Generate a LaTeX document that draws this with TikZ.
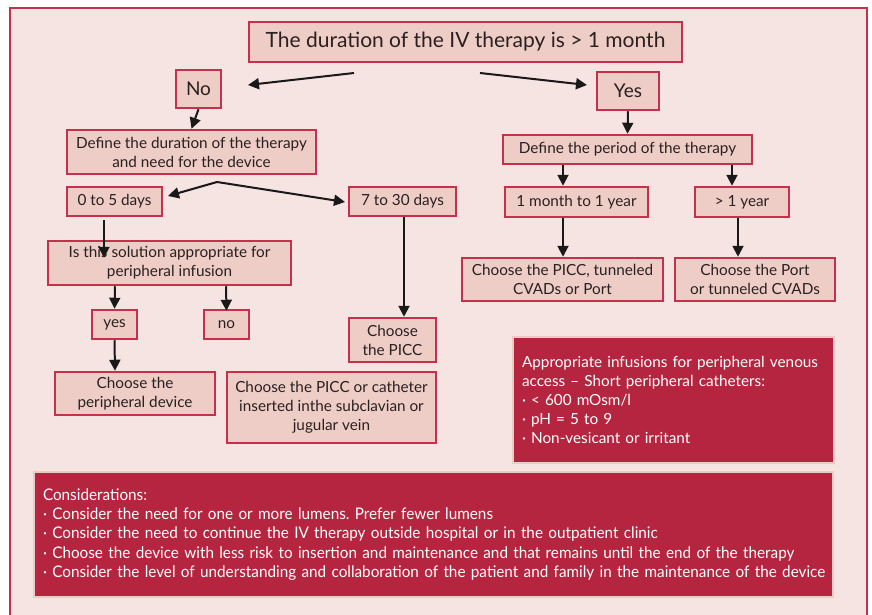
\documentclass[tikz,border=0pt]{standalone}
\usepackage{fontspec}
\setmainfont{Lato}
\newfontfamily\condfont[FakeStretch=0.955]{Lato}
\usetikzlibrary{arrows.meta}
\frenchspacing
\hbadness=10000 \hfuzz=50pt
\definecolor{bgpink}{HTML}{F6E4E2}
\definecolor{boxfill}{HTML}{EECDC6}
\definecolor{boxline}{HTML}{C5304A}
\definecolor{darkred}{HTML}{B5253F}
\definecolor{lightline}{HTML}{EBCBC6}
\definecolor{txt}{HTML}{2A2020}
\tikzset{
  fbox/.style={draw=boxline, line width=2.5pt, fill=boxfill, text=txt, inner sep=0pt, align=center, font=\fontsize{15.3}{19}\selectfont},
  redbox/.style={draw=lightline, line width=2pt, fill=darkred, text=white, inner sep=0pt},
  arr/.style={line width=2pt, draw=black!90, -{Triangle[length=11pt,width=11pt]}}
}
\begin{document}
\begin{tikzpicture}[x=1pt,y=-1pt]
\useasboundingbox (0,0) rectangle (872,615);
\fill[white] (0,0) rectangle (872,615);
\draw[draw=boxline, line width=2pt, fill=bgpink] (10,8) rectangle (867,625);

\node[fbox, minimum width=433pt, minimum height=40pt, font=\fontsize{21}{24}\selectfont] (title) at (465.5,42) {The duration of the IV therapy is > 1 month};
\node[fbox, minimum width=45pt, minimum height=38pt, font=\fontsize{19}{22}\selectfont] (no) at (198.5,89) {No};
\node[fbox, minimum width=62pt, minimum height=38pt, font=\fontsize{19}{22}\selectfont] (yes) at (628,91) {Yes};
\node[fbox, minimum width=249pt, minimum height=44pt] (defdur) at (191.5,152) {Define the duration of the therapy\\and need for the device};
\node[fbox, minimum width=249pt, minimum height=29pt] (defper) at (627.5,149.5) {Define the period of the therapy};
\node[fbox, minimum width=95pt, minimum height=29pt] (d05) at (114.5,201.5) {0 to 5 days};
\node[fbox, minimum width=107pt, minimum height=29pt] (d730) at (402.5,201.5) {7 to 30 days};
\node[fbox, minimum width=143pt, minimum height=30pt] (m1y) at (576.5,202) {1 month to 1 year};
\node[fbox, minimum width=94pt, minimum height=30pt] (g1y) at (742,202) {> 1 year};
\node[fbox, minimum width=243pt, minimum height=44pt] (isthis) at (169.5,263) {Is this solution appropriate for\\peripheral infusion};
\node[fbox, minimum width=45pt, minimum height=29pt] (yes2) at (114.5,324.5) {yes};
\node[fbox, minimum width=45pt, minimum height=29pt] (no2) at (226.5,324.5) {no};
\node[fbox, minimum width=87pt, minimum height=44pt] (picc) at (392.5,340) {Choose\\the PICC};
\node[fbox, minimum width=160pt, minimum height=43pt] (periph) at (135,393.5) {Choose the\\peripheral device};
\node[fbox, minimum width=209pt, minimum height=71pt] (piccor) at (331.5,407.5) {Choose the PICC or catheter\\inserted inthe subclavian or\\jugular vein};
\node[fbox, minimum width=201pt, minimum height=43pt] (picctun) at (562.5,279.5) {Choose the PICC, tunneled\\CVADs or Port};
\node[fbox, minimum width=160pt, minimum height=43pt] (port) at (755,279.5) {Choose the Port\\or tunneled CVADs};

\node[redbox, minimum width=321pt, minimum height=126pt, text width=303pt, align=left, font=\fontsize{15.3}{19}\selectfont] (approp) at (673.5,400) {Appropriate infusions for peripheral venous\\access -- Short peripheral catheters:\\· < 600 mOsm/l\\· pH = 5 to 9\\· Non-vesicant or irritant};
\node[redbox, minimum width=799pt, minimum height=125pt, text width=781pt, align=left, font=\condfont\fontsize{16}{19.2}\selectfont] (consid) at (433.5,534.5) {\mbox{Considerations:}\\\mbox{· Consider the need for one or more lumens. Prefer fewer lumens}\\\mbox{· Consider the need to continue the IV therapy outside hospital or in the outpatient clinic}\\\mbox{· Choose the device with less risk to insertion and maintenance and that remains until the end of the therapy}\\\mbox{· Consider the level of understanding and collaboration of the patient and family in the maintenance of the device}};

% arrows
\coordinate (tL) at (354,73);
\coordinate (tR) at (480,73);
\draw[arr] (tL) -- (248,85);
\draw[arr] (tR) -- (587,85);
\draw[arr] (no.south) -- (defdur.north);
\draw[arr] (yes.south) -- (defper.north);
\coordinate (split) at (217,182);
\draw[arr] (split) -- (168,196);
\draw[arr] (split) -- (345,202);
\draw[arr] ([xshift=-10.5pt,yshift=-3pt]d05.south) -- ([xshift=-65.5pt,yshift=-18pt]isthis.north);
\draw[arr] ([xshift=1.5pt]d730.south) -- ([xshift=11.5pt]picc.north);
\draw[arr] ([xshift=-54.5pt]isthis.south) -- (yes2.north);
\draw[arr] ([xshift=56.5pt]isthis.south) -- ([yshift=-2pt]no2.north);
\draw[arr] (yes2.south) -- ([xshift=-20pt]periph.north);
\draw[arr] ([xshift=-64.5pt]defper.south) -- ([xshift=-13.5pt]m1y.north);
\draw[arr] ([xshift=104.5pt]defper.south) -- ([xshift=-10pt]g1y.north);
\draw[arr] ([xshift=-13.5pt]m1y.south) -- ([xshift=0.5pt]picctun.north);
\draw[arr] ([xshift=-4pt]g1y.south) -- ([xshift=-17pt]port.north);
\end{tikzpicture}
\end{document}
